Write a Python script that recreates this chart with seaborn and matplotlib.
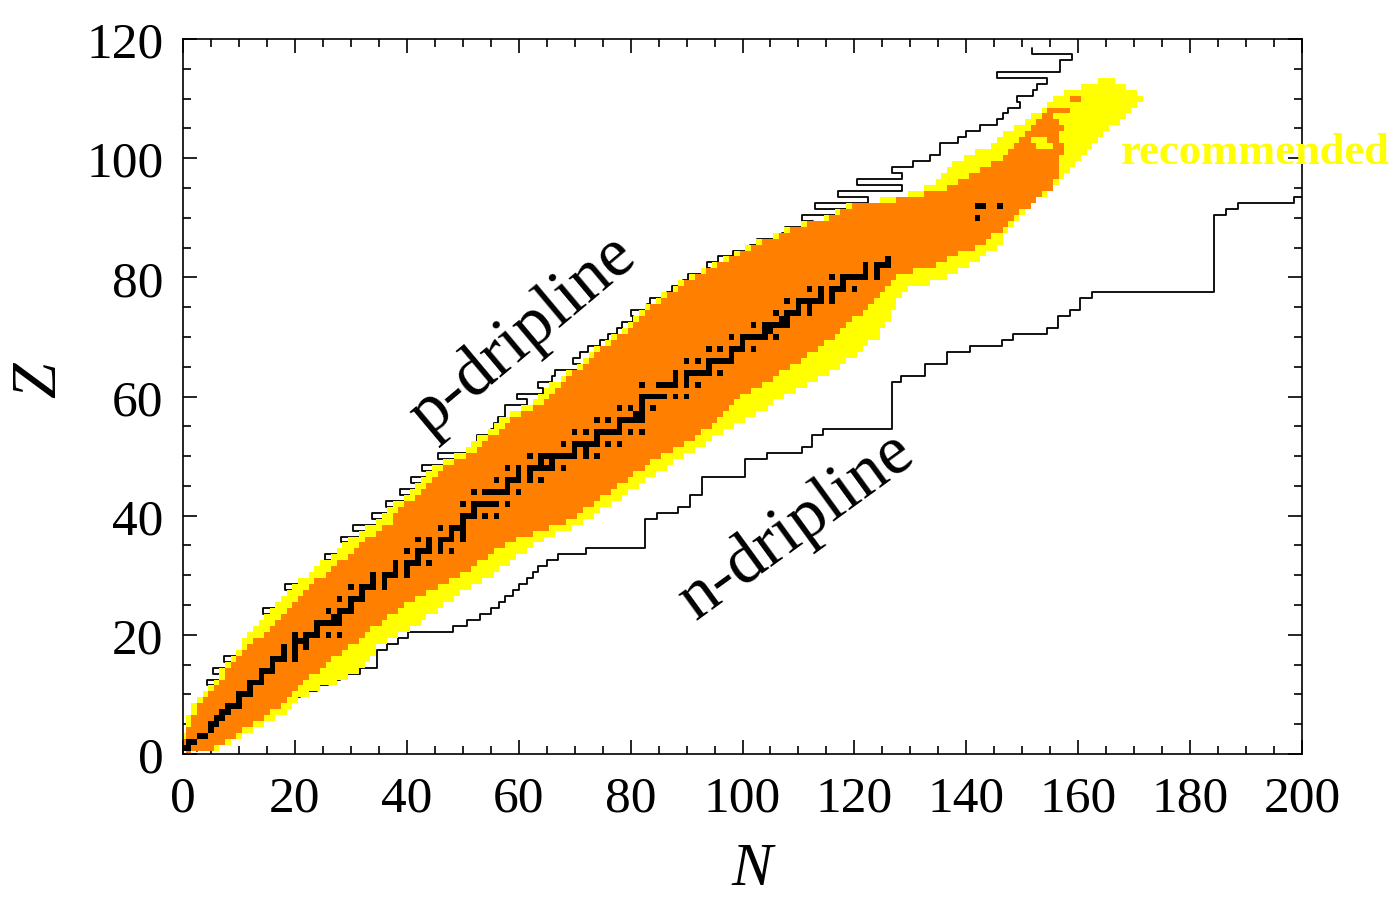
import numpy as np
import pandas as pd
import matplotlib
matplotlib.use("Agg")
import matplotlib.pyplot as plt
from matplotlib.colors import ListedColormap
from matplotlib.ticker import MultipleLocator
import seaborn as sns

sns.set_theme(style="ticks")
plt.rcParams['font.family'] = ['Liberation Serif', 'DejaVu Serif']

# ---------------- data ----------------
# yellow ("recommended") band: lowest / highest N for each Z = 0..113
yellow_lo = [1, 0, 0, 0, 1, 1, 1, 2, 2, 3,
             4, 5, 6, 7, 7, 8, 9, 10, 11, 11,
             12, 13, 14, 15, 16, 17, 18, 19, 20, 21,
             23, 24, 25, 27, 28, 29, 30, 32, 33, 35,
             36, 37, 38, 40, 41, 42, 43, 44, 45, 47,
             49, 51, 52, 53, 55, 56, 57, 59, 61, 63,
             64, 65, 66, 68, 69, 71, 72, 73, 74, 76,
             77, 79, 80, 81, 82, 83, 85, 86, 88, 89,
             91, 93, 95, 97, 99, 101, 103, 106, 108, 111,
             115, 117, 119, 125, 130, 133, 135, 136, 137, 138,
             140, 142, 145, 146, 147, 149, 151, 152, 154, 155,
             156, 158, 161, 164]
yellow_hi = [1, 6, 8, 10, 12, 14, 16, 18, 19, 20,
             22, 24, 27, 29, 31, 32, 33, 34, 34, 36,
             38, 40, 42, 43, 45, 46, 48, 49, 51, 53,
             55, 56, 58, 59, 61, 62, 64, 66, 69, 71,
             73, 74, 76, 78, 79, 81, 82, 84, 86, 87,
             89, 91, 93, 94, 96, 98, 100, 102, 104, 105,
             107, 109, 111, 113, 115, 117, 118, 120, 121, 122,
             124, 124, 125, 126, 126, 127, 127, 128, 129, 133,
             136, 138, 140, 142, 143, 145, 146, 146, 147, 148,
             149, 150, 151, 152, 154, 155, 156, 157, 158, 159,
             160, 161, 162, 163, 164, 165, 167, 168, 169, 170,
             171, 170, 168, 166]
# orange band: lowest / highest N for each Z = 0..104
orange_lo = [1, 0, 0, 1, 1, 2, 2, 3, 3, 4,
             5, 6, 7, 8, 8, 9, 10, 11, 12, 13,
             15, 16, 17, 18, 19, 20, 21, 22, 23, 24,
             26, 27, 28, 30, 31, 32, 33, 35, 36, 38,
             38, 39, 40, 42, 43, 44, 45, 46, 47, 49,
             51, 53, 54, 55, 57, 58, 59, 61, 63, 65,
             66, 67, 68, 69, 70, 72, 73, 74, 75, 77,
             78, 80, 81, 82, 83, 84, 86, 87, 89, 90,
             92, 94, 96, 98, 100, 102, 104, 107, 109, 112,
             116, 118, 120, 128, 133, 137, 139, 141, 143, 145,
             147, 148, 149, 150, 151]
orange_hi = [1, 5, 7, 9, 10, 12, 14, 15, 17, 18,
             19, 20, 21, 22, 24, 25, 26, 28, 29, 31,
             32, 33, 35, 36, 38, 39, 41, 43, 45, 47,
             49, 51, 52, 54, 55, 57, 59, 62, 65, 68,
             70, 71, 73, 74, 76, 77, 79, 80, 82, 83,
             85, 87, 89, 91, 92, 94, 95, 96, 97, 98,
             99, 101, 103, 105, 106, 108, 110, 111, 113, 114,
             116, 117, 118, 119, 121, 122, 123, 124, 125, 126,
             127, 130, 134, 136, 138, 141, 143, 144, 146, 147,
             148, 149, 151, 152, 153, 155, 155, 156, 156, 156,
             156, 157, 157, 156, 156]
# scattered orange patches in the upper (yellow) tip
patch_Z = [105, 106, 107, 108, 110]
patch_lo = [152, 153, 154, 155, 159]
patch_hi = [157, 156, 155, 158, 160]
# yellow specks inside the orange tip
speck_Z = [102, 103]
speck_lo = [153, 152]
speck_hi = [155, 154]

# stable nuclei: Z -> list of N
stable = {
    1: [0, 1], 2: [1, 2], 3: [3, 4], 4: [5], 5: [5, 6], 6: [6, 7], 7: [7, 8],
    8: [8, 9, 10], 9: [10], 10: [10, 11, 12], 11: [12], 12: [12, 13, 14],
    13: [14], 14: [14, 15, 16], 15: [16], 16: [16, 17, 18, 20], 17: [18, 20],
    18: [18, 20, 22], 19: [20, 21, 22], 20: [20, 22, 23, 24, 26, 28], 21: [24],
    22: [24, 25, 26, 27, 28], 23: [27, 28], 24: [26, 28, 29, 30], 25: [30],
    26: [28, 30, 31, 32], 27: [32], 28: [30, 32, 33, 34, 36], 29: [34, 36],
    30: [34, 36, 37, 38, 40], 31: [38, 40], 32: [38, 40, 41, 42, 44], 33: [42],
    34: [40, 42, 43, 44, 46, 48], 35: [44, 46], 36: [42, 44, 46, 47, 48, 50],
    37: [48, 50], 38: [46, 48, 49, 50], 39: [50], 40: [50, 51, 52, 54, 56],
    41: [52], 42: [50, 52, 53, 54, 55, 56, 58], 44: [52, 54, 55, 56, 57, 58, 60],
    45: [58], 46: [56, 58, 59, 60, 62, 64], 47: [60, 62],
    48: [58, 60, 62, 63, 64, 65, 66, 68], 49: [64, 66],
    50: [62, 64, 65, 66, 67, 68, 69, 70, 72, 74], 51: [70, 72],
    52: [68, 70, 71, 72, 73, 74, 76, 78], 53: [74],
    54: [70, 72, 74, 75, 76, 77, 78, 80, 82], 55: [78],
    56: [74, 76, 78, 79, 80, 81, 82], 57: [81, 82], 58: [78, 80, 82, 84], 59: [82],
    60: [82, 83, 84, 85, 86, 88, 90], 62: [82, 85, 86, 87, 88, 90, 92], 63: [88, 90],
    64: [88, 90, 91, 92, 93, 94, 96], 65: [94], 66: [90, 92, 94, 95, 96, 97, 98],
    67: [98], 68: [94, 96, 98, 99, 100, 102], 69: [100],
    70: [98, 100, 101, 102, 103, 104, 106], 71: [104, 105],
    72: [102, 104, 105, 106, 107, 108], 73: [107, 108], 74: [106, 108, 109, 110, 112],
    75: [110, 112], 76: [108, 110, 111, 112, 113, 114, 116], 77: [114, 116],
    78: [112, 114, 116, 117, 118, 120], 79: [118],
    80: [116, 118, 119, 120, 121, 122, 124], 81: [122, 124],
    82: [122, 124, 125, 126], 83: [126], 90: [142], 92: [142, 143, 146],
}

# proton drip line: boundary N for Z = 1..118 (low-Z part mostly hidden under the band)
pdrip_Z = list(range(1, 119))
pdrip_N = [2.5, 2.5, 2.5, 3.5, 3.5, 3.5, 4.5, 4.5, 5.5, 6.5,
           7.5, 4.3, 9.5, 5.3, 10.5, 7.3, 12.5, 13.5, 13.5, 14.5,
           15.5, 16.5, 17.5, 14.3, 19.5, 20.5, 21.5, 18.3, 23.5, 25.5,
           26.5, 27.5, 25.3, 30.5, 31.5, 28.3, 34.5, 30.3, 37.5, 33.8,
           39.5, 36.3, 42.5, 38.8, 44.5, 40.8, 46.5, 42.8, 49.5, 45.6,
           53.0, 52.5, 52.5, 55.0, 55.5, 56.3, 57.5, 57.5, 61.5, 59.7,
           64.3, 63.5, 66.0, 66.5, 71.0, 69.7, 71.0, 72.4, 74.5, 76.0,
           77.6, 78.5, 80.5, 80.0, 83.0, 83.5, 86.5, 87.4, 89.4, 90.3,
           94.2, 93.6, 95.6, 98.3, 101.3, 102.6, 107.0, 107.6, 112.6, 110.6,
           119.6, 113.0, 122.5, 117.0, 128.5, 120.5, 128.5, 126.7, 130.5, 133.5,
           135.3, 135.3, 138.5, 140.0, 142.5, 145.5, 146.6, 147.5, 149.6, 149.0,
           152.0, 152.6, 154.4, 145.5, 156.7, 156.7, 158.9, 151.7]
# neutron drip line: boundary N for Z = 9..94
ndrip_Z = list(range(9, 95))
ndrip_N = [19.0, 21.0, 24.0, 26.0, 28.0, 31.6, 34.7, 34.7, 34.7, 36.5,
           38.5, 40.2, 48.3, 50.7, 53.0, 55.0, 56.5, 57.5, 59.0, 60.0,
           61.5, 62.5, 63.5, 65.0, 67.0, 72.0, 82.6, 82.6, 82.6, 82.6,
           82.6, 84.7, 88.5, 90.6, 90.6, 92.7, 92.7, 92.7, 100.4, 100.4,
           100.4, 104.3, 110.6, 112.4, 112.4, 114.4, 126.7, 126.7, 126.7, 126.7,
           126.7, 126.7, 126.7, 126.7, 128.4, 132.6, 132.6, 136.5, 136.5, 140.7,
           146.3, 148.4, 154.4, 156.4, 156.4, 158.5, 160.3, 160.3, 162.4, 184.3,
           184.3, 184.3, 184.3, 184.3, 184.3, 184.3, 184.3, 184.3, 184.3, 184.3,
           184.3, 184.3, 186.5, 188.6, 198.6, 201.0]

x_ticks = [0, 20, 40, 60, 80, 100, 120, 140, 160, 180, 200]
y_ticks = [0, 20, 40, 60, 80, 100, 120]

# ---------------- build cell grid ----------------
grid = np.zeros((121, 201))
for z, (a, b) in enumerate(zip(yellow_lo, yellow_hi)):
    grid[z, a:b + 1] = 1
for z, (a, b) in enumerate(zip(orange_lo, orange_hi)):
    grid[z, a:b + 1] = 2
for z, a, b in zip(patch_Z, patch_lo, patch_hi):
    grid[z, a:b + 1] = 2
for z, a, b in zip(speck_Z, speck_lo, speck_hi):
    grid[z, a:b + 1] = 1
for z, ns in stable.items():
    grid[z, ns] = 3
cells = np.ma.masked_equal(grid, 0)


def step_path(zs, ns, name):
    xs, ys = [], []
    for z, n in zip(zs, ns):
        xs += [n, n]
        ys += [z - 0.5, z + 0.5]
    return pd.DataFrame({"N": xs, "Z": ys, "line": name})


pdf = step_path(pdrip_Z, pdrip_N, "p")
ndf = step_path(ndrip_Z, ndrip_N, "n")

# ---------------- figure ----------------
fig = plt.figure(figsize=(13.96, 9.04), dpi=100)
ax = fig.add_axes([183 / 1396, 1 - 755 / 904, 1119 / 1396, 715 / 904])

sns.lineplot(data=pdf, x="N", y="Z", sort=False, estimator=None, color="black",
             lw=1.3, ax=ax, zorder=1, legend=False)
sns.lineplot(data=ndf, x="N", y="Z", sort=False, estimator=None, color="black",
             lw=1.3, ax=ax, zorder=1, legend=False)

cmap = ListedColormap(["#FFFF00", "#FF8000", "#000000"])
ax.pcolormesh(np.arange(-0.5, 201.0, 1.0), np.arange(-0.5, 121.0, 1.0), cells,
              cmap=cmap, vmin=0.5, vmax=3.5, shading="flat", zorder=2,
              antialiased=False, linewidth=0)

ax.set_xlim(0, 200)
ax.set_ylim(0, 120)
ax.set_xticks(x_ticks)
ax.set_yticks(y_ticks)
ax.set_xticklabels([str(v) for v in x_ticks])
ax.set_yticklabels([str(v) for v in y_ticks])
ax.xaxis.set_minor_locator(MultipleLocator(5))
ax.yaxis.set_minor_locator(MultipleLocator(5))
ax.tick_params(which="both", direction="in", top=True, right=True, color="black",
               width=1.2)
ax.tick_params(which="major", length=10, labelsize=37, labelcolor="black")
ax.tick_params(which="minor", length=6)
ax.tick_params(axis="x", which="major", pad=15)
ax.tick_params(axis="y", which="major", pad=14)
for s in ax.spines.values():
    s.set_color("black")
    s.set_linewidth(1.2)
    s.set_zorder(5)

ax.set_xlabel("N", fontsize=44, style="italic", color="black")
ax.set_ylabel("Z", fontsize=46, style="italic", color="black")
ax.xaxis.set_label_coords((752 - 183) / 1119, (755 - 870) / 715)
ax.yaxis.set_label_coords((40 - 183) / 1119, (755 - 380) / 715)
for lab in (ax.xaxis.label, ax.yaxis.label):
    lab.set_va("center")
    lab.set_ha("center")
    lab.set_rotation_mode("anchor")

ax.text(60.8, 70.5, "p-dripline", rotation=40, rotation_mode="anchor",
        ha="center", va="center", fontsize=50, color="black", zorder=6)
ax.text(109.7, 38.3, "n-dripline", rotation=36, rotation_mode="anchor",
        ha="center", va="center", fontsize=50, color="black", zorder=6)
ax.text(191.6, 101.0, "recommended", ha="center", va="center", fontsize=32,
        fontweight="bold", color="#FFFF00", clip_on=False, zorder=6)

fig.savefig("out.png", dpi=100)
